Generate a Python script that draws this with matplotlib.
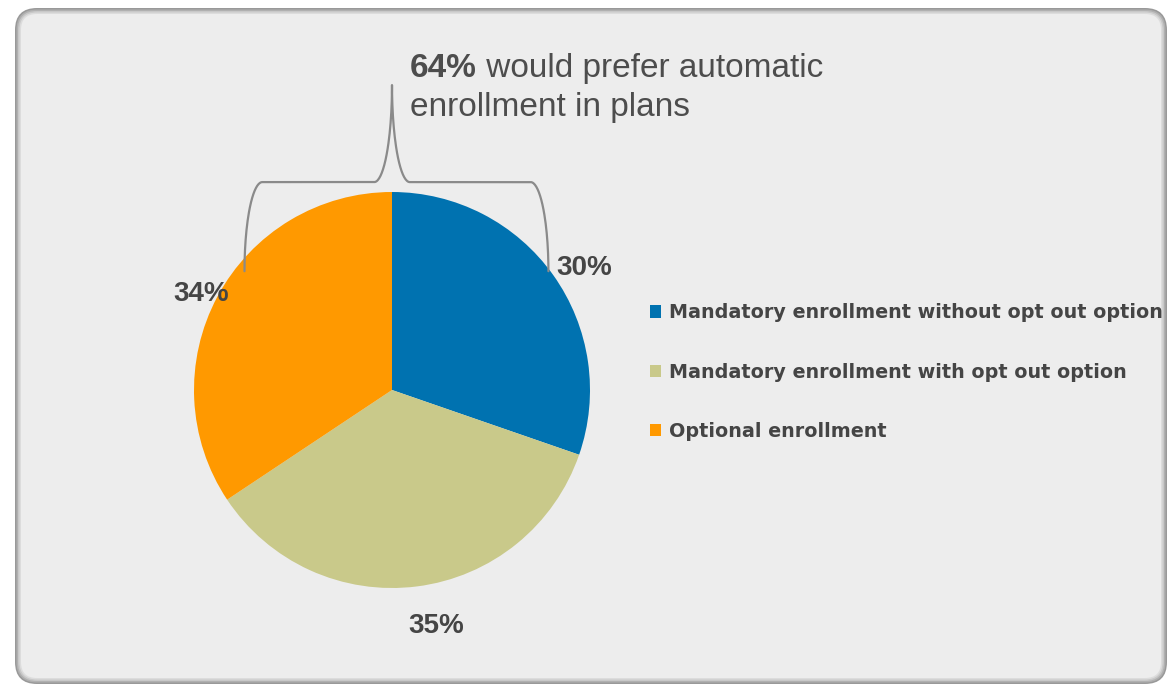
import matplotlib.pyplot as plt
import numpy as np
from matplotlib.patches import FancyBboxPatch

# data
labels = ['Mandatory enrollment without opt out option',
          'Mandatory enrollment with opt out option',
          'Optional enrollment']
values = [30, 35, 34]
pct_labels = ['30%', '35%', '34%']
colors = ['#0072B0', '#C9C98A', '#FF9900']
callout_bold = '64%'
callout_rest = ' would prefer automatic'
callout_line2 = 'enrollment in plans'

W, H = 1171, 693
fig = plt.figure(figsize=(W / 100, H / 100), dpi=100)
fig.patch.set_facecolor('white')

# rounded grey panel with a soft darker rim (drawn in inches)
rim = [(0, '#999999'), (1.5, '#b0b0b0'), (3, '#c8c8c8'), (4.5, '#dcdcdc'), (6, '#ededed')]
for pad, col in rim:
    box = FancyBboxPatch(((15 + pad) / 100, (9 + pad) / 100), (1152 - 2 * pad) / 100, (676 - 2 * pad) / 100,
                         boxstyle='round,pad=0,rounding_size=%f' % ((22 - pad) / 100),
                         transform=fig.dpi_scale_trans, facecolor=col, edgecolor='none', zorder=-5)
    fig.patches.append(box)

# pie axes: centre at (392, 390) px from top, radius ~198 px
cx, cy, r = 392, 390, 198
side = 3 * r
ax = fig.add_axes([(cx - side / 2) / W, (H - cy - side / 2) / H, side / W, side / H])

wedges, _ = ax.pie(values, colors=colors, startangle=90, counterclock=False,
                   radius=1, wedgeprops=dict(linewidth=0))
ax.set_xlim(-1.5, 1.5)
ax.set_ylim(-1.5, 1.5)
ax.set_aspect('equal')
ax.axis('off')

# percentage labels around the pie (distance, angle nudge in degrees)
label_dist = [1.15, 1.21, 1.08]
label_shift = [-3.2, 3.3, 1.5]
for w, txt, d, s in zip(wedges, pct_labels, label_dist, label_shift):
    ang = np.deg2rad((w.theta1 + w.theta2) / 2 + s)
    ax.text(d * np.cos(ang), d * np.sin(ang), txt, ha='center', va='center',
            fontsize=20, fontweight='bold', color='#454545', family='Liberation Sans')

# curly brace over the top of the pie
xl, xr = -0.745, 0.79
yb, yt, yp = 0.6, 1.05, 1.54
c = 0.09
t = np.linspace(0, 1, 40)
q = t * np.pi / 2
bx = np.concatenate([xl + c * (1 - np.cos(q)),
                     np.linspace(xl + c, -c, 10),
                     -c + c * np.sin(q),
                     c - c * np.sin(q[::-1]),
                     np.linspace(c, xr - c, 10),
                     xr - c + c * np.sin(q)])
by = np.concatenate([yb + (yt - yb) * np.sin(q),
                     np.full(10, yt),
                     yt + (yp - yt) * (1 - np.cos(q)),
                     yt + (yp - yt) * (1 - np.cos(q[::-1])),
                     np.full(10, yt),
                     yt - (yt - yb) * (1 - np.cos(q))])
ax.plot(bx, by, color='#8a8a8a', lw=1.6, clip_on=False, solid_capstyle='round')

# callout text
t1 = fig.text(410 / W, 1 - 77 / H, callout_bold, fontsize=24, fontweight='bold',
              color='#4d4d4d', family='Liberation Sans', va='baseline')
fig.canvas.draw()
plt.annotate(callout_rest, xy=(1, 0), xycoords=t1, va='bottom', ha='left',
             fontsize=24, color='#4d4d4d', family='Liberation Sans',
             annotation_clip=False)
fig.text(410 / W, 1 - 116 / H, callout_line2, fontsize=24,
         color='#4d4d4d', family='Liberation Sans', va='baseline')

# legend
fig.legend(wedges, labels, loc='center left', bbox_to_anchor=(640 / W, 1 - 372 / H),
           frameon=False, labelcolor='#454545', handlelength=0.6,
           handleheight=0.6, handletextpad=0.4, labelspacing=2.1, borderpad=0,
           prop=dict(family='DejaVu Sans', weight='bold', size=13.8))

fig.savefig('out.png', dpi=100, facecolor='white')
